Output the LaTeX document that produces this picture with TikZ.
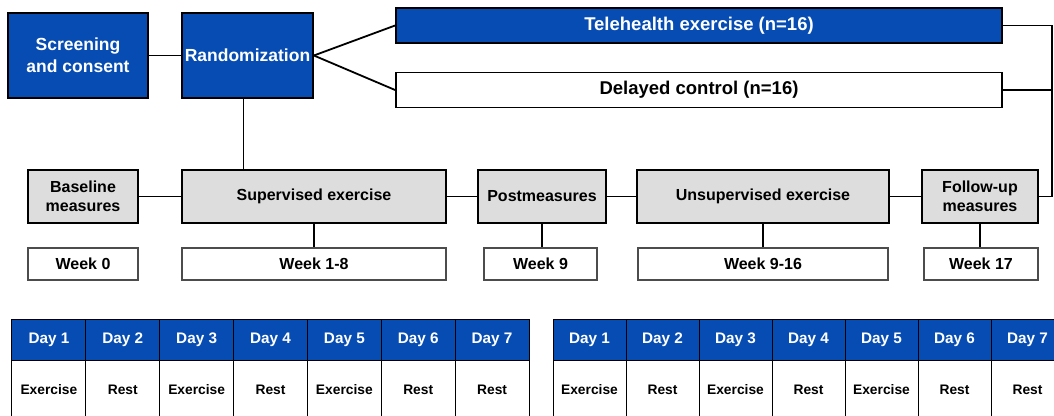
\documentclass[tikz,border=0pt]{standalone}
\usepackage{fontspec}
\setmainfont{Liberation Sans}
\usetikzlibrary{calc}
\definecolor{trialblue}{RGB}{6,76,178}
\definecolor{phasegray}{RGB}{221,221,221}

\begin{document}
\begin{tikzpicture}[x=1pt, y=-1pt, line width=1.8pt,
    bluebox/.style={draw=black, fill=trialblue, text=white, align=center, inner sep=0pt,
                    font=\bfseries\fontsize{17.5}{22}\selectfont, minimum height=85pt},
    armbox/.style={draw=black, inner sep=0pt, minimum width=606pt, minimum height=35pt,
                   font=\bfseries\fontsize{18.5}{21}\selectfont},
    phase/.style={draw=black, fill=phasegray, align=center, inner sep=0pt, minimum height=53pt,
                  font=\bfseries\fontsize{16}{19.5}\selectfont},
    weekbox/.style={draw=black!70, line width=1.1pt, inner sep=0pt, minimum height=32pt,
                    font=\bfseries\fontsize{16}{18}\selectfont},
    dayhead/.style={draw=black, line width=1pt, fill=trialblue, text=white, inner sep=0pt,
                    minimum height=41pt, font=\bfseries\fontsize{15.3}{18}\selectfont},
    daycell/.style={draw=black, line width=1pt, inner sep=0pt, minimum height=60pt,
                    font=\bfseries\fontsize{13.8}{16}\selectfont}]

\useasboundingbox (0,0) rectangle (1054,415);
\clip (0,0) rectangle (1054,415);

\node[bluebox, minimum width=140pt] (screen) at (78,55.5) {Screening\\and consent};
\node[bluebox, minimum width=131pt] (rand) at (247.5,55.5) {Randomization};
\node[armbox, fill=trialblue, text=white] (tele) at (699,25.5) {Telehealth exercise (n=16)};
\node[armbox] (delay) at (699,90) {Delayed control (n=16)};

\node[phase, minimum width=110pt] (base) at (83,196.5) {Baseline\\measures};
\node[phase, minimum width=264pt] (sup) at (314,196.5) {Supervised exercise};
\node[phase, minimum width=128pt] (post) at (542,196.5) {Postmeasures};
\node[phase, minimum width=252pt] (unsup) at (763,196.5) {Unsupervised exercise};
\node[phase, minimum width=116pt] (follow) at (980,196.5) {Follow-up\\measures};

\node[weekbox, minimum width=110pt] (wk0) at (83,264) {Week 0};
\node[weekbox, minimum width=264pt] (wk1) at (314,264) {Week 1-8};
\node[weekbox, minimum width=113pt] (wk9) at (540.5,264) {Week 9};
\node[weekbox, minimum width=250pt] (wk916) at (763,264) {Week 9-16};
\node[weekbox, minimum width=114pt] (wk17) at (981,264) {Week 17};

\coordinate (rail) at (1052,0);

\draw (screen) -- (rand);
\draw (rand.east) -- (tele.west);
\draw (rand.east) -- (delay.west);
\draw ([xshift=-4pt]rand.south) -- ([xshift=-4pt]rand.south |- sup.north);
\draw (base) -- (sup);
\draw (sup) -- (post);
\draw (post) -- (unsup);
\draw (unsup) -- (follow);
\draw (follow.east) -- (follow.east -| rail) |- (tele.east);
\draw (delay.east) -- (delay.east -| rail);
\draw (sup.south) -- (sup.south |- wk1.north);
\draw (post.south) -- (post.south |- wk9.north);
\draw (unsup.south) -- (unsup.south |- wk916.north);
\draw (follow.south) -- (follow.south |- wk17.north);

\foreach \act [count=\i] in {Exercise,Rest,Exercise,Rest,Exercise,Rest,Rest} {
  \node[dayhead, minimum width=73.9pt] (lh\i) at ({12+73.86*(\i-0.5)},339.5) {Day \i};
  \node[daycell, minimum width=73.9pt] (lb\i) at ({12+73.86*(\i-0.5)},390) {\act};
  \node[dayhead, minimum width=73pt] (rh\i) at ({553+73*(\i-0.5)},339.5) {Day \i};
  \node[daycell, minimum width=73pt] (rb\i) at ({553+73*(\i-0.5)},390) {\act};
}
\end{tikzpicture}
\end{document}
